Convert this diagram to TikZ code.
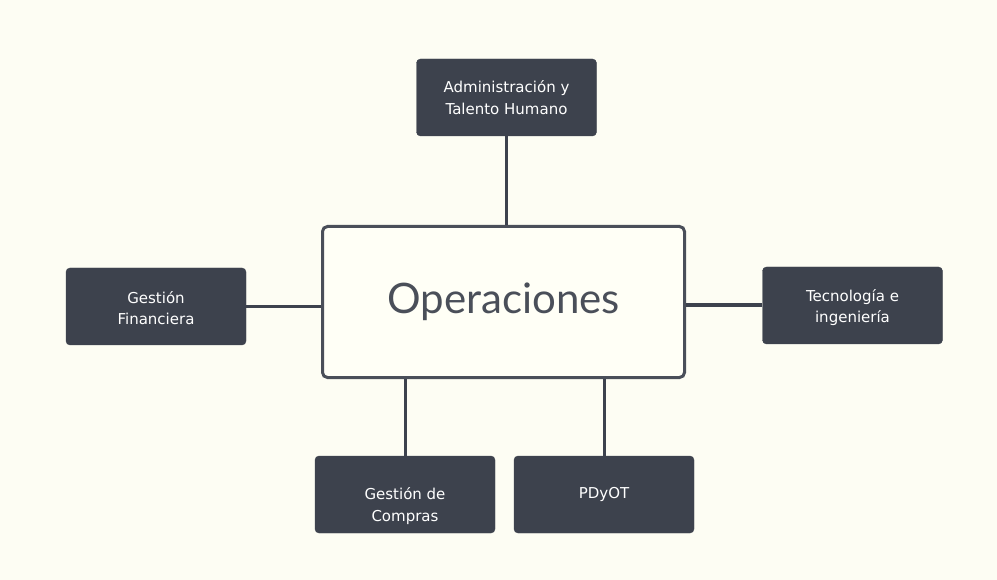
\documentclass[tikz,border=0pt]{standalone}
\usepackage{fontspec}
\newfontfamily\boxfont{DejaVu Sans}
\newfontfamily\titfont{Lato}
\definecolor{fondo}{HTML}{FDFDF3}
\definecolor{caja}{HTML}{3D424D}
\definecolor{borde}{HTML}{4A4F59}
\definecolor{centro}{HTML}{FFFFF6}
\tikzset{
  area/.style={draw=caja,fill=caja,rounded corners=4pt,minimum width=180pt,minimum height=77pt,
    text=white,align=center,font=\boxfont\fontsize{15}{21.5}\selectfont},
  nucleo/.style={draw=borde,line width=3pt,fill=centro,rounded corners=5pt,minimum width=362pt,minimum height=151pt,
    text=borde,font=\titfont\fontsize{42}{46}\selectfont},
  enlace/.style={draw=caja,line width=3pt}
}
\begin{document}
\begin{tikzpicture}[x=1pt,y=-1pt]
\fill[fondo] (0,0) rectangle (997,580); \useasboundingbox (0,0) rectangle (997,580);
\node[nucleo] (oper) at (503.5,302) {Operaciones};
\node[area] (admin) at (506.5,97.5) {Administración y\\Talento Humano};
\node[area] (finan) at (156,306.5) {\rule{0pt}{15pt}Gestión\\Financiera};
\node[area] (tecno) at (852.5,305.5) {\rule{0pt}{16pt}Tecnología e\\ingeniería};
\node[area] (compras) at (405,494.5) {\rule{0pt}{35pt}Gestión de\\Compras};
\node[area] (pdyot) at (604,494.5) {PDyOT};
\draw[enlace] (admin.south) -- (oper.north -| admin.south);
\draw[enlace] (finan.east) -- (oper.west |- finan.east);
\draw[enlace,line width=4pt] (tecno.west) -- (oper.east |- tecno.west);
\draw[enlace] (compras.north) -- (oper.south -| compras.north);
\draw[enlace] (pdyot.north) -- (oper.south -| pdyot.north);
\end{tikzpicture}
\end{document}
